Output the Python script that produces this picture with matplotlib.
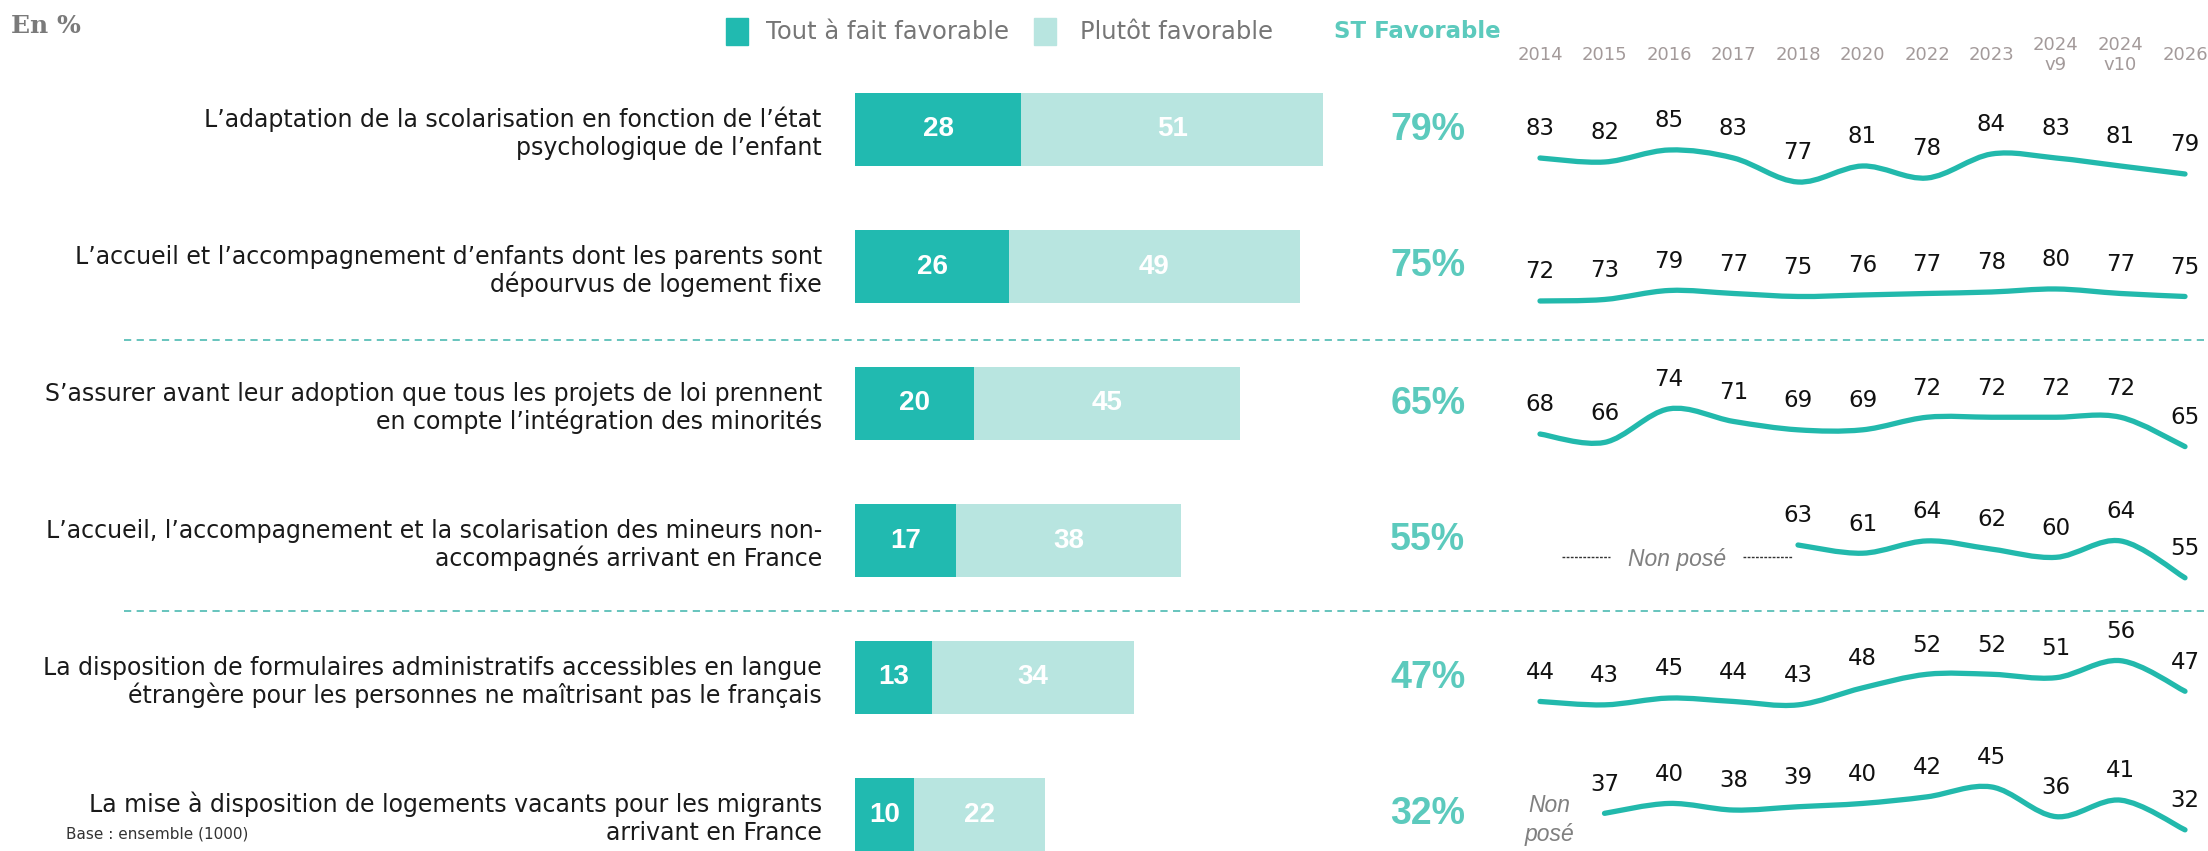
import numpy as np
import matplotlib
matplotlib.use("Agg")
import matplotlib.pyplot as plt
from matplotlib.path import Path
from matplotlib.patches import PathPatch, Rectangle

# ---- data ----
labels = [
    "L’adaptation de la scolarisation en fonction de l’état\npsychologique de l’enfant",
    "L’accueil et l’accompagnement d’enfants dont les parents sont\ndépourvus de logement fixe",
    "S’assurer avant leur adoption que tous les projets de loi prennent\nen compte l’intégration des minorités",
    "L’accueil, l’accompagnement et la scolarisation des mineurs non-\naccompagnés arrivant en France",
    "La disposition de formulaires administratifs accessibles en langue\nétrangère pour les personnes ne maîtrisant pas le français",
    "La mise à disposition de logements vacants pour les migrants\narrivant en France",
]
tout_fait = [28, 26, 20, 17, 13, 10]
plutot = [51, 49, 45, 38, 34, 22]
st_favorable = [79, 75, 65, 55, 47, 32]

years = ["2014", "2015", "2016", "2017", "2018", "2020", "2022", "2023",
         "2024\nv9", "2024\nv10", "2026"]
nan = np.nan
trend_1 = [83, 82, 85, 83, 77, 81, 78, 84, 83, 81, 79]
trend_2 = [72, 73, 79, 77, 75, 76, 77, 78, 80, 77, 75]
trend_3 = [68, 66, 74, 71, 69, 69, 72, 72, 72, 72, 65]
trend_4 = [nan, nan, nan, nan, 63, 61, 64, 62, 60, 64, 55]
trend_5 = [44, 43, 45, 44, 43, 48, 52, 52, 51, 56, 47]
trend_6 = [nan, 37, 40, 38, 39, 40, 42, 45, 36, 41, 32]
trends = [trend_1, trend_2, trend_3, trend_4, trend_5, trend_6]

# ---- style ----
DARK = "#21bab0"
LIGHT = "#b8e5e0"
ST_COL = "#5ccabd"
LINE_COL = "#22b9ac"
W, H = 2208, 851
ROW0, ROW_STEP = 129.5, 137.0
# per-row vertical range of the small trend charts
trend_ylims = [(73, 107.25), (49.3, 140.7), (58.95, 91.6),
               (47.4, 80.8), (30.9, 71.2), (15.9, 57.4)]

fig = plt.figure(figsize=(W / 100, H / 100), dpi=100)

# decoration layer in pixel units
deco = fig.add_axes([0, 0, 1, 1])
deco.set_xlim(0, W)
deco.set_ylim(H, 0)
deco.axis("off")

deco.text(11, 26, "En %", fontsize=18, fontweight="bold", family="DejaVu Serif",
          color="#7a7a7a", va="center", ha="left")
deco.add_patch(Rectangle((726, 18), 22, 27, color=DARK))
deco.text(766, 32, "Tout à fait favorable", fontsize=17.5, color="#767676",
          va="center", ha="left")
deco.add_patch(Rectangle((1034, 18), 22, 27, color=LIGHT))
deco.text(1080, 32, "Plutôt favorable", fontsize=17.5, color="#767676",
          va="center", ha="left")
deco.text(1334, 32, "ST Favorable", fontsize=16.5, fontweight="bold", color=ST_COL,
          va="center", ha="left")
deco.text(66, 834, "Base : ensemble (1000)", fontsize=11, color="#333333",
          va="center", ha="left")
for ysep in (340, 611):
    deco.plot([124, 2204], [ysep, ysep], color="#5bbfb8", lw=1.3,
              linestyle=(0, (4, 3)))

# ---- stacked bars ----
x_left, px_unit = 855, 5.93
ax = fig.add_axes([x_left / W, 0, 100 * px_unit / W, 1])
ax.set_xlim(0, 100)
ax.set_ylim((H - ROW0) / ROW_STEP, -ROW0 / ROW_STEP)
ax.axis("off")
rows = np.arange(len(labels))
bh = 73 / ROW_STEP
ax.barh(rows, tout_fait, height=bh, color=DARK)
ax.barh(rows, plutot, left=tout_fait, height=bh, color=LIGHT)
narrow = ["Liberation Sans Narrow", "Liberation Sans"]
bar_font = dict(family=narrow, fontweight="bold", color="white", fontsize=20,
                ha="center", va="center")
line_gap = 28 / ROW_STEP
for i in rows:
    ax.text(tout_fait[i] / 2, i, str(tout_fait[i]), **bar_font)
    ax.text(tout_fait[i] + plutot[i] / 2, i, str(plutot[i]), **bar_font)
    ax.text(96.6, i, f"{st_favorable[i]}%", color=ST_COL, fontsize=27,
            fontweight="bold", family=narrow, ha="center", va="center")
    parts = labels[i].split("\n")
    for j, part in enumerate(parts):
        yj = i + 0.03 + (j - (len(parts) - 1) / 2) * line_gap
        ax.text(-5.6, yj, part, ha="right", va="center", fontsize=17,
                color="#1a1a1a", clip_on=False)

# ---- trend lines ----
sx0, sx_step = 1540, 64.5
x_lo = (1500 - sx0) / sx_step
x_hi = (W - sx0) / sx_step
xi = np.arange(len(years))

hdr = fig.add_axes([1500 / W, 1 - 80 / H, (W - 1500) / W, 50 / H])
hdr.set_xlim(x_lo, x_hi)
hdr.set_ylim(80, 30)
hdr.axis("off")
for k, yr in enumerate(years):
    hdr.text(k, 55, yr, ha="center", va="center", fontsize=13,
             color="#a39a9a", linespacing=1.1)


def smooth_path(xs, ys):
    verts = [(xs[0], ys[0])]
    codes = [Path.MOVETO]
    n = len(xs)
    for i in range(n - 1):
        a = i - 1 if i > 0 else i
        d = i + 2 if i + 2 < n else i + 1
        c1 = (xs[i] + (xs[i + 1] - xs[a]) / 6, ys[i] + (ys[i + 1] - ys[a]) / 6)
        c2 = (xs[i + 1] - (xs[d] - xs[i]) / 6, ys[i + 1] - (ys[d] - ys[i]) / 6)
        verts += [c1, c2, (xs[i + 1], ys[i + 1])]
        codes += [Path.CURVE4] * 3
    return Path(verts, codes)


for r, vals in enumerate(trends):
    c = ROW0 + r * ROW_STEP
    sax = fig.add_axes([1500 / W, 1 - (c + ROW_STEP / 2) / H,
                        (W - 1500) / W, ROW_STEP / H])
    sax.set_xlim(x_lo, x_hi)
    sax.set_ylim(*trend_ylims[r])
    sax.axis("off")
    v = np.array(vals, dtype=float)
    ok = ~np.isnan(v)
    xs, ys = xi[ok].astype(float), v[ok]
    sax.add_patch(PathPatch(smooth_path(xs, ys), fill=False, edgecolor=LINE_COL,
                            lw=3.8, capstyle="round", joinstyle="round"))
    for x, y in zip(xs, ys):
        sax.annotate(f"{y:.0f}", (x, y), xytext=(0, 21), textcoords="offset points",
                     ha="center", va="center", fontsize=16.5, color="#111111",
                     annotation_clip=False)

    if r == 3:
        sax.plot([0.34, 1.09], [0.38, 0.38], transform=sax.get_xaxis_transform(),
                 color="#333333", lw=1, linestyle=(0, (2, 1)))
        sax.plot([3.15, 3.91], [0.38, 0.38], transform=sax.get_xaxis_transform(),
                 color="#333333", lw=1, linestyle=(0, (2, 1)))
        sax.text(2.12, 0.36, "Non posé", transform=sax.get_xaxis_transform(),
                 ha="center", va="center", fontsize=16.5, style="italic",
                 family="Liberation Sans", color="#808080")
    if r == 5:
        sax.text(0.15, 0.46, "Non\nposé", transform=sax.get_xaxis_transform(),
                 ha="center", va="center", fontsize=16.5, style="italic",
                 family="Liberation Sans", color="#808080", linespacing=1.3)

fig.savefig("out.png", dpi=100)
